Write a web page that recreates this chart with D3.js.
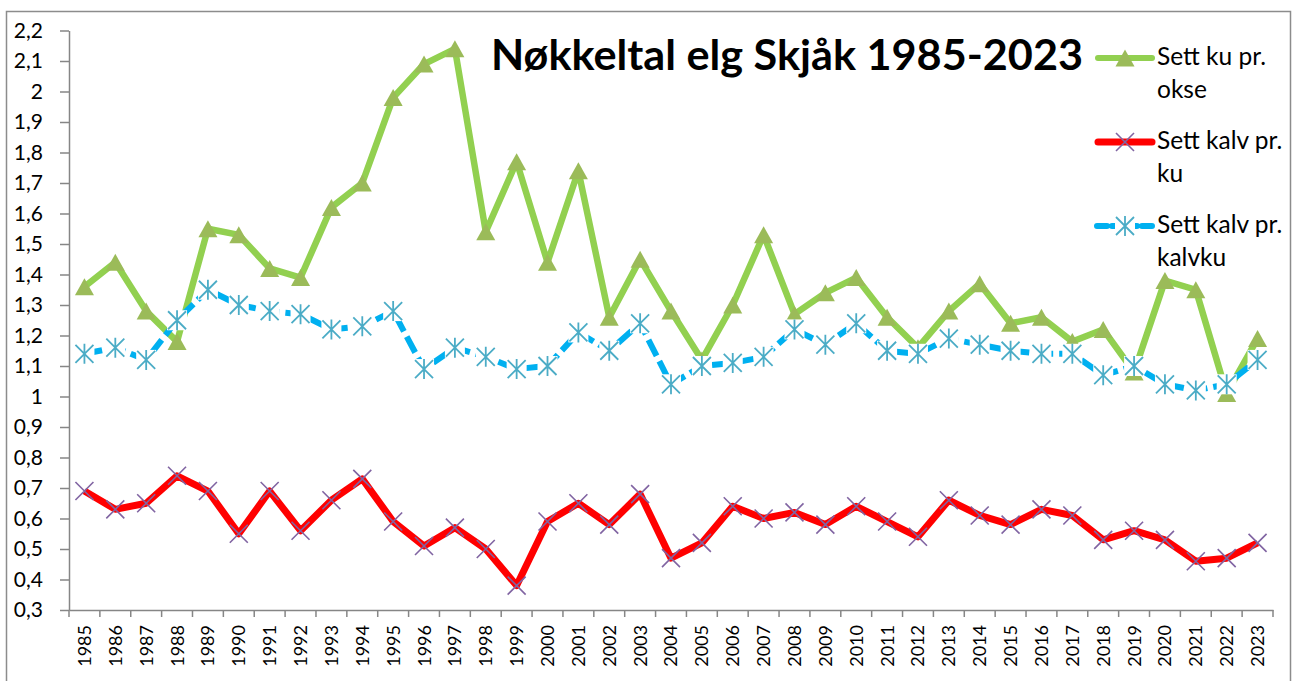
<!DOCTYPE html>
<html><head><meta charset="utf-8">
<script src="https://cdn.jsdelivr.net/npm/d3@7"></script>
<style>body{margin:0;background:#fff}svg{display:block}</style>
</head><body>
<svg id="c" width="1292" height="681"></svg>
<script>
const years = ["1985","1986","1987","1988","1989","1990","1991","1992","1993","1994","1995","1996","1997","1998","1999","2000","2001","2002","2003","2004","2005","2006","2007","2008","2009","2010","2011","2012","2013","2014","2015","2016","2017","2018","2019","2020","2021","2022","2023"];
const kuPrOkse = [1.36,1.44,1.28,1.18,1.55,1.53,1.42,1.39,1.62,1.70,1.98,2.09,2.14,1.54,1.77,1.44,1.74,1.26,1.45,1.28,1.12,1.30,1.53,1.27,1.34,1.39,1.26,1.16,1.28,1.37,1.24,1.26,1.18,1.22,1.08,1.38,1.35,1.01,1.19];
const kalvPrKu = [0.69,0.63,0.65,0.74,0.69,0.55,0.69,0.56,0.66,0.73,0.59,0.51,0.57,0.50,0.38,0.59,0.65,0.58,0.68,0.47,0.52,0.64,0.60,0.62,0.58,0.64,0.59,0.54,0.66,0.61,0.58,0.63,0.61,0.53,0.56,0.53,0.46,0.47,0.52];
const kalvPrKalvku = [1.14,1.16,1.12,1.25,1.35,1.30,1.28,1.27,1.22,1.23,1.28,1.09,1.16,1.13,1.09,1.10,1.21,1.15,1.24,1.04,1.10,1.11,1.13,1.22,1.17,1.24,1.15,1.14,1.19,1.17,1.15,1.14,1.14,1.07,1.10,1.04,1.02,1.04,1.12];
const yTicks = [0.3,0.4,0.5,0.6,0.7,0.8,0.9,1.0,1.1,1.2,1.3,1.4,1.5,1.6,1.7,1.8,1.9,2.0,2.1,2.2];
const titleText = "Nøkkeltal elg Skjåk 1985-2023";
const legendLabels = [["Sett ku pr.","okse"],["Sett kalv pr.","ku"],["Sett kalv pr.","kalvku"]];

const svg = d3.select("#c");
const FONT = "Lato, 'Noto Sans', sans-serif";
const AX = "#868686";

// outer border
svg.append("rect").attr("x",6.5).attr("y",11.5).attr("width",1284).attr("height",700)
  .attr("fill","#fff").attr("stroke","#8c8c8c").attr("stroke-width",1.5);

const x = d3.scaleBand().domain(years).range([69,1273]).padding(0);
const y = d3.scaleLinear().domain([0.3,2.2]).range([610,30.5]);
const cx = d => x(d) + x.bandwidth()/2;

// y axis
const fmt = v => String(+v.toFixed(1)).replace(".", ",");
const gy = svg.append("g").attr("transform","translate(69,0)")
  .call(d3.axisLeft(y).tickValues(yTicks).tickSize(9).tickSizeOuter(0).tickPadding(17).tickFormat(fmt));
gy.selectAll("text").attr("font-family",FONT).attr("font-size",21).attr("fill","#000");
gy.selectAll("line").attr("stroke",AX).attr("stroke-width",1.5);
gy.select(".domain").attr("stroke",AX).attr("stroke-width",1.5);

// x axis
const gx = svg.append("g").attr("transform","translate(0,610)")
  .call(d3.axisBottom(x).tickSize(0).tickSizeOuter(0));
gx.select(".domain").attr("stroke",AX).attr("stroke-width",1.5);
gx.selectAll("text").attr("font-family",FONT).attr("font-size",18).attr("fill","#000")
  .attr("transform","rotate(-90)").attr("text-anchor","end").attr("x",-15).attr("y",0).attr("dy","0.36em");
gx.selectAll("line.bt").data(years.map(d=>x(d)).concat([x.range()[1]])).enter().append("line")
  .attr("class","bt").attr("x1",d=>d).attr("x2",d=>d).attr("y1",0).attr("y2",7)
  .attr("stroke",AX).attr("stroke-width",1.5);

const line = d3.line().x((d,i)=>cx(years[i])).y(d=>y(d));

const triPath = "M0,-8.5L9.5,8.5L-9.5,8.5Z";
function drawTri(g, px, py){
  g.append("path").attr("d",triPath).attr("transform",`translate(${px},${py})`).attr("fill","#9BBB59");
}
function drawX(g, px, py){
  const s=9;
  g.append("path").attr("d",`M${px-s},${py-s}L${px+s},${py+s}M${px-s},${py+s}L${px+s},${py-s}`)
    .attr("stroke","#8064A2").attr("stroke-width",1.6).attr("fill","none");
}
function drawStar(g, px, py){
  g.append("rect").attr("x",px-10).attr("y",py-10).attr("width",20).attr("height",20).attr("fill","#fff");
  const s=9;
  g.append("path").attr("d",`M${px-s},${py-s}L${px+s},${py+s}M${px-s},${py+s}L${px+s},${py-s}M${px},${py-s-1}L${px},${py+s+1}`)
    .attr("stroke","#4BACC6").attr("stroke-width",1.8).attr("fill","none");
}

// series 1: green
const g1 = svg.append("g");
g1.append("path").attr("d",line(kuPrOkse)).attr("fill","none").attr("stroke","#92D050")
  .attr("stroke-width",6.5).attr("stroke-linejoin","round");
kuPrOkse.forEach((v,i)=>drawTri(g1, cx(years[i]), y(v)));

// series 2: red
const g2 = svg.append("g");
g2.append("path").attr("d",line(kalvPrKu)).attr("fill","none").attr("stroke","#FF0000")
  .attr("stroke-width",7).attr("stroke-linejoin","round");
kalvPrKu.forEach((v,i)=>drawX(g2, cx(years[i]), y(v)));

// series 3: blue dashed
const g3 = svg.append("g");
g3.append("path").attr("d",line(kalvPrKalvku)).attr("fill","none").attr("stroke","#00B0F0")
  .attr("stroke-width",6).attr("stroke-dasharray","18,6").attr("stroke-linejoin","round");
kalvPrKalvku.forEach((v,i)=>drawStar(g3, cx(years[i]), y(v)));

// title
svg.append("text").attr("x",491).attr("y",70).attr("font-family",FONT).attr("font-weight",700)
  .attr("font-size",42).attr("textLength",592).attr("lengthAdjust","spacingAndGlyphs").attr("fill","#000").text(titleText);

// legend
const lg = svg.append("g");
const legY = [58,142,226];
const legStyles = [
  {stroke:"#92D050", w:6, dash:null, mk:drawTri},
  {stroke:"#FF0000", w:7, dash:null, mk:drawX},
  {stroke:"#00B0F0", w:6, dash:"10,5", mk:null}
];
legendLabels.forEach((lab,i)=>{
  const ly = legY[i], st = legStyles[i];
  const l = lg.append("line").attr("x1",1098).attr("x2",1152).attr("y1",ly).attr("y2",ly)
    .attr("stroke",st.stroke).attr("stroke-width",st.w).attr("stroke-linecap","round");
  if(st.dash){ l.attr("stroke-dasharray",st.dash).attr("x1",1097).attr("x2",1153); }
  if(st.mk) st.mk(lg,1125,ly); else drawStar(lg,1125,ly);
  const t = lg.append("text").attr("font-family",FONT).attr("font-size",24.5).attr("fill","#000");
  t.append("tspan").attr("x",1157).attr("y",ly+7).text(lab[0]);
  t.append("tspan").attr("x",1157).attr("y",ly+40).text(lab[1]);
});
</script>
</body></html>
